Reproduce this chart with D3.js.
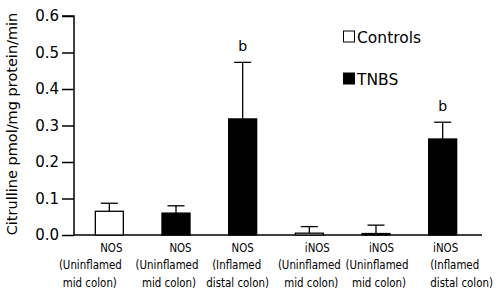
<!DOCTYPE html>
<html>
<head>
<meta charset="utf-8">
<script src="https://cdn.jsdelivr.net/npm/d3@7/dist/d3.min.js"></script>
<style>
body{margin:0;background:#fff;}
svg{display:block;}
text{font-family:"DejaVu Sans",Verdana,sans-serif;fill:#000;}
.cond{font-family:"DejaVu Sans Condensed","DejaVu Sans",sans-serif;font-stretch:condensed;}
</style>
</head>
<body>
<svg id="chart" width="502" height="298"></svg>
<script>
const categories = [
  ["NOS","(Uninflamed","mid colon)"],
  ["NOS","(Uninflamed","mid colon)"],
  ["NOS","(Inflamed","distal colon)"],
  ["iNOS","(Uninflamed","mid colon)"],
  ["iNOS","(Uninflamed","mid colon)"],
  ["iNOS","(Inflamed","distal colon)"]
];
const groups = ["Controls","TNBS","TNBS","Controls","TNBS","TNBS"];
const values = [0.065, 0.060, 0.318, 0.005, 0.004, 0.263];
const errors = [0.022, 0.020, 0.155, 0.018, 0.023, 0.046];
const significance = ["", "", "b", "", "", "b"];
const yTicks = [0.0, 0.1, 0.2, 0.3, 0.4, 0.5, 0.6];
const legendItems = ["Controls","TNBS"];
const yTitle = "Citrulline pmol/mg protein/min";

// layout: horizontal shift of each label line relative to its bar centre (px)
const labelLineDx = [
  [2, -19, -19.5],
  [4.5, -9, -7],
  [0, -6, -5],
  [8, 0, 2],
  [5.5, 1, 3],
  [3, 12, 19]
];

const svg = d3.select("#chart");
const x0 = 74, yBase = 235, yTop = 16;
const y = d3.scaleLinear().domain([0, 0.6]).range([yBase, yTop]);
const x = d3.scaleBand().domain(d3.range(values.length)).range([76, 476]).paddingInner(0.58).paddingOuter(0.29);
const fill = d3.scaleOrdinal().domain(legendItems).range(["#fff","#000"]);

// y axis
const yAxis = d3.axisLeft(y).tickValues(yTicks).tickFormat(d3.format(".1f")).tickSize(12).tickPadding(3);
const gy = svg.append("g").attr("transform", `translate(${x0},0)`).call(yAxis);
gy.select(".domain").attr("d", `M-12,${yTop}H0V${yBase}`).attr("stroke","#000").attr("stroke-width",1.5);
gy.selectAll(".tick line").attr("stroke","#000").attr("stroke-width",1.5);
gy.selectAll(".tick text").style("font-size","15px").style("font-family","DejaVu Sans, Verdana, sans-serif").attr("fill","#000");

// x baseline
svg.append("line").attr("x1", x0).attr("x2", 482).attr("y1", yBase).attr("y2", yBase).attr("stroke","#000").attr("stroke-width",1.5);

// error bars
const capW = 17;
const eb = svg.append("g");
values.forEach((v, i) => {
  const cx = x(i) + x.bandwidth()/2;
  eb.append("line").attr("x1", cx).attr("x2", cx).attr("y1", y(v)).attr("y2", y(v + errors[i])).attr("stroke","#000").attr("stroke-width",1.3);
  eb.append("line").attr("x1", cx - capW/2).attr("x2", cx + capW/2).attr("y1", y(v + errors[i])).attr("y2", y(v + errors[i])).attr("stroke","#000").attr("stroke-width",1.3);
  if (significance[i]) {
    svg.append("text").attr("x", cx).attr("y", y(v + errors[i]) - 11).attr("text-anchor","middle").style("font-size","14px").text(significance[i]);
  }
});

// bars
svg.append("g").selectAll("rect").data(values).join("rect")
  .attr("x", (d, i) => x(i))
  .attr("y", d => y(d))
  .attr("width", x.bandwidth())
  .attr("height", d => yBase - y(d))
  .attr("fill", (d, i) => fill(groups[i]))
  .attr("stroke", "#000").attr("stroke-width", 1.3);

// category labels
const cl = svg.append("g");
categories.forEach((lines, i) => {
  const cx = x(i) + x.bandwidth()/2;
  const t = cl.append("text").attr("class","cond").attr("text-anchor","middle").style("font-size","11.4px");
  lines.forEach((ln, j) => {
    t.append("tspan").attr("x", cx + labelLineDx[i][j]).attr("y", 252 + j*17.4).text(ln);
  });
});

// legend
legendItems.forEach((k, i) => {
  const ly = 31 + i*42;
  svg.append("rect").attr("x", 343.5).attr("y", ly).attr("width", 11).attr("height", 11).attr("fill", fill(k)).attr("stroke","#000").attr("stroke-width",1);
  svg.append("text").attr("x", 357).attr("y", ly + 12).style("font-size","15.5px").text(k);
});

// y title
svg.append("text").attr("transform", "translate(17,124) rotate(-90)").attr("text-anchor","middle").style("font-size","14.5px").text(yTitle);
</script>
</body>
</html>
